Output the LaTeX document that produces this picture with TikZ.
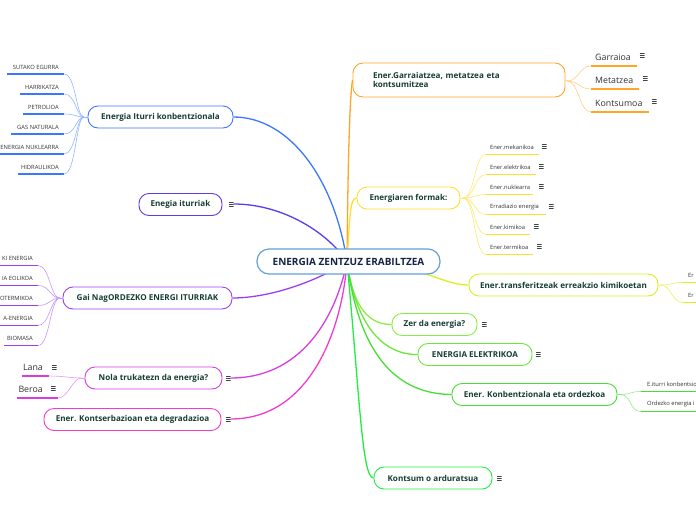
\documentclass[tikz,border=0pt]{standalone}
\usepackage{fontspec}
\setmainfont{Open Sans}
\definecolor{txt}{RGB}{22,62,52}
\definecolor{navy}{RGB}{22,36,70}
\definecolor{leaftxt}{RGB}{50,50,50}
\definecolor{icontxt}{RGB}{60,70,70}
\definecolor{ccen}{RGB}{100,160,215}
\definecolor{cblue}{RGB}{60,120,255}
\definecolor{cindigo}{RGB}{90,60,232}
\definecolor{cpurple}{RGB}{155,64,240}
\definecolor{cmag}{RGB}{214,62,224}
\definecolor{cpink}{RGB}{240,60,204}
\definecolor{corange}{RGB}{255,165,40}
\definecolor{cyellow}{RGB}{255,222,50}
\definecolor{cygreen}{RGB}{216,240,30}
\definecolor{cgreenA}{RGB}{140,236,70}
\definecolor{cgreenB}{RGB}{105,232,58}
\definecolor{cgreenC}{RGB}{70,222,50}
\definecolor{cgreenD}{RGB}{34,236,68}
\tikzset{
  topic/.style={draw, rounded corners=10pt, fill=white, line width=0.9pt,
    minimum height=22pt, inner xsep=4pt, font=\fontsize{8.1}{9.5}\selectfont\bfseries, text=txt},
  leaf/.style={font=\fontsize{5.8}{7}\selectfont, text=leaftxt, inner sep=0pt},
  bigleaf/.style={font=\fontsize{8.8}{10}\selectfont, text=leaftxt, inner sep=0pt},
  icon/.style={minimum width=5pt, minimum height=5pt, inner sep=0pt,
    path picture={
      \draw[icontxt, line width=0.6pt]
        ([yshift=2.1pt]path picture bounding box.west) -- ([yshift=2.1pt]path picture bounding box.east)
        (path picture bounding box.west) -- (path picture bounding box.east)
        ([yshift=-2.1pt]path picture bounding box.west) -- ([yshift=-2.1pt]path picture bounding box.east);
    }},
  conn/.style={line width=1.3pt},
  sub/.style={line width=0.6pt},
  uline/.style={line width=1.3pt},
}
\begin{document}
\begin{tikzpicture}[x=1pt,y=-1pt]
\useasboundingbox (0,0) rectangle (696,520);
\coordinate (hub) at (347,262);
\pgfdeclarelayer{bg}\pgfsetlayers{bg,main}

% ---------- topic nodes ----------
\node[topic, draw=cblue, minimum width=145pt] (iturri) at (160.5,117) {Energia Iturri konbentzionala};
\node[topic, draw=cindigo, minimum width=83pt] (enegia) at (180.5,204.5) {Enegia iturriak};
\node[icon] (enegiaic) at (231,204) {};
\node[topic, draw=cpurple, minimum width=169pt] (gainag) at (147.5,298) {Gai NagORDEZKO ENERGI ITURRIAK};
\node[topic, draw=cmag, minimum width=137pt] (nola) at (153.5,378) {Nola trukatezn da energia?};
\node[icon] (nolaic) at (228,378) {};
\node[topic, draw=cpink, minimum width=177pt] (kons) at (132.5,419.5) {Ener. Kontserbazioan eta degradazioa};
\node[icon] (konsic) at (228,419) {};

\node[topic, draw=corange, minimum width=212pt, minimum height=34pt, align=left, text width=172pt] (garr) at (459,80) {Ener.Garraiatzea, metatzea eta\\kontsumitzea};
\node[topic, draw=cyellow, minimum width=103pt] (formak) at (408.5,198) {Energiaren formak:};
\node[topic, draw=cygreen, minimum width=189pt] (transf) at (563.5,285) {Ener.transferitzeak erreakzio kimikoetan};
\node[topic, draw=cgreenA, minimum width=85pt] (zer) at (434.5,324.5) {Zer da energia?};
\node[icon] (zeric) at (484,324) {};
\node[topic, draw=cgreenB, minimum width=114pt] (elek) at (475,354.5) {ENERGIA ELEKTRIKOA};
\node[icon] (elekic) at (538,354) {};
\node[topic, draw=cgreenC, minimum width=165pt] (konb) at (534.5,394.5) {Ener. Konbentzionala eta ordezkoa};
\node[topic, draw=cgreenD, minimum width=118pt] (kontsum) at (433,478) {Kontsum o arduratsua};
\node[icon] (kontsumic) at (499,478) {};

\node[draw=ccen, rounded corners=12pt, line width=1.2pt, fill=white, minimum width=183pt,
  minimum height=25pt, font=\fontsize{10}{11}\selectfont\bfseries, text=navy] (center) at (348.5,261.5) {ENERGIA ZENTZUZ ERABILTZEA};

\begin{pgfonlayer}{bg}
% ---------- main connectors ----------
\draw[conn, cblue] (hub) .. controls (335,180) and (290,117) .. (iturri.east);
\draw[conn, cindigo] (enegiaic.east) .. controls (285,204) and (330,235) .. (hub);
\draw[conn, cpurple] (hub) .. controls (310,285) and (265,298) .. (gainag.east);
\draw[conn, cmag] (nolaic.east) .. controls (300,378) and (335,320) .. (hub);
\draw[conn, cpink] (konsic.east) .. controls (310,419) and (342,330) .. (hub);
\draw[conn, corange] (hub) .. controls (348,150) and (350,95) .. (garr.west);
\draw[conn, cyellow] (hub) .. controls (350,215) and (350,198) .. (formak.west);
\draw[conn, cygreen] (hub) .. controls (420,262) and (440,285) .. (transf.west);
\draw[conn, cgreenA] (hub) .. controls (352,300) and (365,325) .. (zer.west);
\draw[conn, cgreenB] (hub) .. controls (355,320) and (380,355) .. (elek.west);
\draw[conn, cgreenC] (hub) .. controls (360,360) and (400,394) .. (konb.west);
\draw[conn, cgreenD] (hub) .. controls (360,400) and (362,478) .. (kontsum.west);
\end{pgfonlayer}

% ---------- Energia Iturri konbentzionala leaves ----------
\coordinate (itc) at (84,117);
\draw[sub, cblue!55] (itc) -- (iturri.west);
\foreach \t/\ys/\xs [count=\i] in {SUTAKO EGURRA/67/7, HARRIKATZA/87/20, PETROLIOA/107/23, GAS NATURALA/127/11, ENERGIA NUKLEARRA/147/0, HIDRAULIKOA/167/18} {
  \node[leaf, anchor=east] (itl\i) at (59,\ys) {\t};
  \coordinate (itu\i) at (\xs,\ys+7);
  \coordinate (ite\i) at (64,\ys+7);
  \draw[uline, cblue] (itu\i) -- (ite\i);
  \draw[sub, cblue!55] (ite\i) .. controls +(12,0) and +(-8,0) .. (itc);
}

% ---------- Gai Nag leaves ----------
\coordinate (gnc) at (60,298);
\draw[sub, cpurple!55] (gnc) -- (gainag.west);
\foreach \t/\ys/\xs [count=\i] in {KI ENERGIA/258/0, IA EOLIKOA/278/0, OTERMIKOA/298/0, A-ENERGIA/318/0, BIOMASA/338/4} {
  \node[leaf, anchor=east] (gnl\i) at (33,\ys) {\t};
  \coordinate (gnu\i) at (\xs,\ys+7.5);
  \coordinate (gne\i) at (38,\ys+7.5);
  \draw[uline, cpurple] (gnu\i) -- (gne\i);
  \draw[sub, cpurple!55] (gne\i) .. controls +(12,0) and +(-10,0) .. (gnc);
}

% ---------- Nola leaves ----------
\coordinate (nlc) at (81,378);
\draw[sub, cmag!55] (nlc) -- (nola.west);
\node[bigleaf, anchor=east] (lana) at (43,367) {Lana};
\node[icon] (lanaic) at (54,367) {};
\coordinate (lanau) at (22,376);
\coordinate (lanae) at (49,376);
\draw[uline, cmag] (lanau) -- (lanae);
\draw[sub, cmag!55] (lanae) .. controls +(15,0) and +(-10,0) .. (nlc);
\node[bigleaf, anchor=east] (beroa) at (43,389) {Beroa};
\node[icon] (beroaic) at (53,388) {};
\coordinate (beroau) at (17,398);
\coordinate (beroae) at (58,398);
\draw[uline, cmag] (beroau) -- (beroae);
\draw[sub, cmag!55] (beroae) .. controls +(10,0) and +(-8,0) .. (nlc);

% ---------- Garraiatzea leaves ----------
\coordinate (grc) at (567,81);
\draw[sub, corange!55] (garr.east) -- (grc);
\foreach \t/\ys/\xe/\xi [count=\i] in {Garraioa/57/637/642, Metatzea/80/639/645, Kontsumoa/103/649/654} {
  \node[bigleaf, anchor=west] (grl\i) at (595,\ys) {\t};
  \node[icon] (gri\i) at (\xi,\ys-2) {};
  \coordinate (gru\i) at (591,\ys+9);
  \coordinate (gre\i) at (\xe,\ys+9);
  \draw[uline, corange] (gru\i) -- (gre\i);
  \draw[sub, corange!55] (grc) .. controls +(12,0) and +(-12,0) .. (gru\i);
}

% ---------- Energiaren formak leaves ----------
\coordinate (fmc) at (463,198);
\draw[sub, cyellow!70] (formak.east) -- (fmc);
\foreach \t/\ys/\xe/\xi [count=\i] in {Ener.mekanikoa/147/539/544, Ener.elektrikoa/167/536/541, Ener.nuklearra/187/533/541, Erradiazio energia/207/546/551, Ener.kimikoa/227/530/536, Ener.termikoa/247/533/539} {
  \node[leaf, anchor=west] (fml\i) at (490,\ys) {\t};
  \node[icon] (fmi\i) at (\xi,\ys-1) {};
  \coordinate (fmu\i) at (486,\ys+7.5);
  \coordinate (fme\i) at (\xe,\ys+7.5);
  \draw[uline, cyellow] (fmu\i) -- (fme\i);
  \draw[sub, cyellow!70] (fmc) .. controls +(12,0) and +(-12,0) .. (fmu\i);
}

% ---------- transferitzeak leaves ----------
\coordinate (tfc) at (660,285);
\draw[sub, cygreen!70] (transf.east) -- (tfc);
\foreach \ys [count=\i] in {275,295} {
  \node[leaf, anchor=west] (tfl\i) at (688,\ys) {Er};
  \coordinate (tfu\i) at (683,\ys+7.5);
  \coordinate (tfe\i) at (697,\ys+7.5);
  \draw[uline, cygreen] (tfu\i) -- (tfe\i);
  \draw[sub, cygreen!70] (tfc) .. controls +(12,0) and +(-12,0) .. (tfu\i);
}

% ---------- Konbentzionala leaves ----------
\coordinate (kbc) at (620,394.5);
\draw[sub, cgreenC!60] (konb.east) -- (kbc);
\foreach \t/\ys [count=\i] in {E.iturri konbentsio/384, Ordezko energia i/404} {
  \node[leaf, anchor=west] (kbl\i) at (647,\ys) {\t};
  \coordinate (kbu\i) at (641,\ys+7.5);
  \coordinate (kbe\i) at (697,\ys+7.5);
  \draw[uline, cgreenC] (kbu\i) -- (kbe\i);
  \draw[sub, cgreenC!60] (kbc) .. controls +(12,0) and +(-12,0) .. (kbu\i);
}
\end{tikzpicture}
\end{document}
